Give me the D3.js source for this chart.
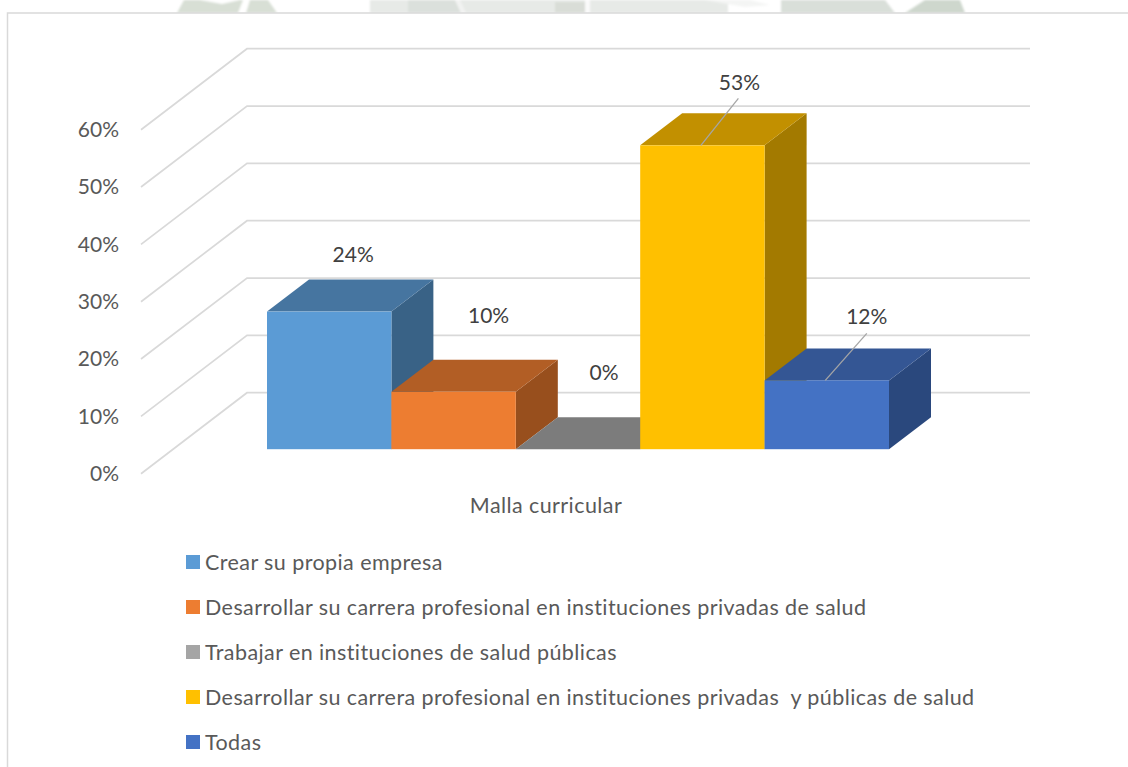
<!DOCTYPE html>
<html><head><meta charset="utf-8">
<script src="https://cdnjs.cloudflare.com/ajax/libs/d3/7.8.5/d3.min.js"></script>
<style>html,body{margin:0;padding:0;background:#fff}svg{display:block}text{font-family:Lato,"Open Sans",sans-serif}</style>
</head><body><div id="chart"></div>
<script>
const categoryLabel = "Malla curricular";
const seriesNames = [
  "Crear su propia empresa",
  "Desarrollar su carrera profesional en instituciones privadas de salud",
  "Trabajar en instituciones de salud públicas",
  "Desarrollar su carrera profesional en instituciones privadas  y públicas de salud",
  "Todas"
];
const seriesValues = [24, 10, 0, 53, 12];
const yTicks = [0, 10, 20, 30, 40, 50, 60];
const frontColors = ["#5B9BD5", "#ED7D31", "#A5A5A5", "#FFC000", "#4472C4"];
const topColors   = ["#4675A0", "#B25E25", "#7C7C7C", "#C29000", "#345694"];
const sideColors  = ["#396286", "#984F1D", "#686868", "#A37A00", "#2A487D"];
const labelShiftX = [24, 35, 26, 37, 40];
const labelShiftY = [-56.5, -76.5, -76.5, -62.5, -64];
const leaderEnds  = [null, null, null, [36, -47], [40, -47]];
const watermark = [
  {c:"#d8dfd5", p:[[177,13],[184,0],[268,0],[277,13]]},
  {c:"#ffffff", p:[[200,0],[222,4],[240,0]]},
  {c:"#ffffff", p:[[243,0],[250,0],[246,13],[238,13]]},
  {c:"#e7eae7", p:[[370,0],[728,0],[728,13],[370,13]]},
  {c:"#dbe0dc", p:[[408,0],[455,0],[461,13],[408,13]]},
  {c:"#f2f3f2", p:[[455,0],[460,0],[466,13],[461,13]]},
  {c:"#d9ddd7", p:[[555,2],[585,2],[585,13],[555,13]]},
  {c:"#fafafa", p:[[585,0],[590,0],[590,13],[585,13]]},
  {c:"#f4f5f4", p:[[705,0],[750,0],[770,5],[745,7]]},
  {c:"#ffffff", p:[[773,0],[781,0],[781,13],[773,13]]},
  {c:"#d9dfd9", p:[[781,0],[885,0],[895,13],[781,13]]},
  {c:"#ced7cd", p:[[905,13],[925,0],[960,0],[965,13]]}
];

const W = 1128, H = 767;
const svg = d3.select("#chart").append("svg").attr("width", W).attr("height", H);
svg.append("defs").append("filter").attr("id", "soft")
  .append("feGaussianBlur").attr("stdDeviation", 0.9);

const poly = pts => pts.map(p => p.join(",")).join(" ");
svg.append("g").attr("filter", "url(#soft)").selectAll("polygon").data(watermark).join("polygon")
  .attr("points", d => poly(d.p)).attr("fill", d => d.c);
svg.append("rect").attr("x", 0).attr("y", 13).attr("width", W).attr("height", H - 13).attr("fill", "#fff");
svg.append("path").attr("d", `M7.5 ${H}V13H${W}`).attr("fill", "none").attr("stroke", "#d9d9d9").attr("stroke-width", 1.5);

// Walls: y scale for the front edge of the side wall, and the depth offset to the back wall
const yWall = d3.scaleLinear().domain([0, 60]).range([473.7, 129.7]);
const wallDepth = { x: 106, y: -81 }, wallX0 = 141, wallX1 = 1030;
const gridPts = t => [[wallX0, yWall(t)], [wallX0 + wallDepth.x, yWall(t) + wallDepth.y], [wallX1, yWall(t) + wallDepth.y]];
svg.append("g").selectAll("polyline").data(yTicks).join("polyline")
  .attr("points", t => poly(gridPts(t)))
  .attr("fill", "none").attr("stroke", "#d9d9d9").attr("stroke-width", 1.7);
svg.append("g").selectAll("text").data(yTicks).join("text")
  .attr("x", 119).attr("y", t => yWall(t)).attr("dy", "0.35em").attr("text-anchor", "end")
  .attr("font-size", 21).attr("fill", "#595959").text(t => t + "%");

// Bars
const xBand = d3.scaleBand().domain(d3.range(seriesValues.length)).range([267, 889]).padding(0);
const yBar = d3.scaleLinear().domain([0, 60]).range([449.2, 449.2 - 344]);
const depth = { x: 42, y: -32 };
const bars = svg.append("g");
seriesValues.forEach((v, i) => {
  const x0 = xBand(i), x1 = x0 + xBand.bandwidth(), yT = yBar(v), yB = yBar(0);
  const g = bars.append("g");
  g.append("polygon").attr("fill", sideColors[i])
    .attr("points", poly([[x1, yT], [x1 + depth.x, yT + depth.y], [x1 + depth.x, yB + depth.y], [x1, yB]]));
  g.append("polygon").attr("fill", topColors[i])
    .attr("points", poly([[x0, yT], [x0 + depth.x, yT + depth.y], [x1 + depth.x, yT + depth.y], [x1, yT]]));
  if (v > 0) g.append("rect").attr("fill", frontColors[i])
    .attr("x", x0).attr("y", yT).attr("width", xBand.bandwidth()).attr("height", yB - yT);
});

// Data labels and leader lines
seriesValues.forEach((v, i) => {
  const cx = xBand(i) + xBand.bandwidth() / 2, yT = yBar(v);
  if (leaderEnds[i]) {
    svg.append("line").attr("x1", cx - 1.5).attr("y1", yT)
      .attr("x2", cx + leaderEnds[i][0]).attr("y2", yT + leaderEnds[i][1])
      .attr("stroke", "#a6a6a6").attr("stroke-width", 1.3);
  }
  svg.append("text").attr("x", cx + labelShiftX[i]).attr("y", yT + labelShiftY[i]).attr("dy", "0.35em")
    .attr("text-anchor", "middle").attr("font-size", 21).attr("fill", "#404040").text(v + "%");
});

svg.append("text").attr("x", 546).attr("y", 505).attr("dy", "0.35em").attr("text-anchor", "middle")
  .attr("font-size", 21.5).attr("letter-spacing", 0.42).attr("fill", "#595959").text(categoryLabel);

// Legend
const yLegend = d3.scalePoint().domain(d3.range(seriesNames.length)).range([562, 742]);
const leg = svg.append("g").selectAll("g").data(seriesNames).join("g")
  .attr("transform", (d, i) => `translate(186,${yLegend(i)})`);
leg.append("rect").attr("y", -7).attr("width", 14).attr("height", 14).attr("fill", (d, i) => frontColors[i]);
leg.append("text").attr("x", 19).attr("dy", "0.35em").attr("font-size", 21.5).attr("letter-spacing", 0.42).attr("fill", "#595959")
  .style("white-space", "pre").text(d => d);
</script></body></html>
